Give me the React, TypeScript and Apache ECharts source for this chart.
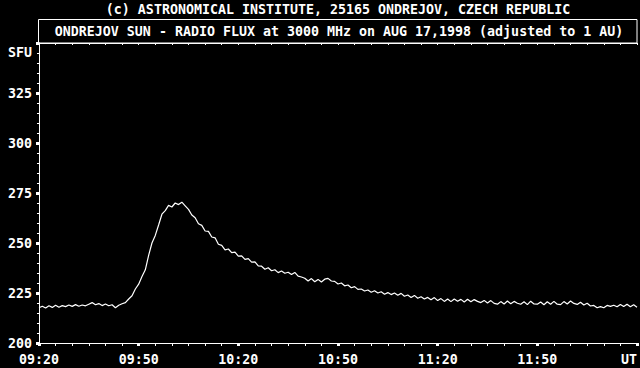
import React, { useEffect, useRef } from "react";
import * as echarts from "echarts";

const startMinute = 0; // minutes after 09:20 UT
const stepMinutes = 1;
const fluxValues: number[] = [
  217.6, 218.4, 217.5, 218.6, 217.8, 218.9, 217.9, 218.7, 218.2, 219.0,
  218.3, 219.2, 218.4, 219.0, 218.6, 219.4, 220.2, 219.1, 219.7, 218.7,
  219.5, 218.6, 219.1, 217.6, 218.9, 219.6, 220.2, 222.0, 223.6, 227.0,
  229.4, 233.2, 236.6, 243.8, 250.0, 253.8, 259.0, 264.4, 266.2, 268.8,
  268.0, 270.0, 269.2, 270.4, 268.6, 266.8, 264.0, 262.6, 259.6, 258.8,
  256.0, 255.8, 253.0, 252.6, 249.4, 248.8, 246.6, 247.0, 245.2, 245.4,
  243.4, 243.6, 241.8, 242.2, 240.4, 240.6, 238.6, 238.4, 236.9, 237.6,
  236.1, 236.6, 235.2, 236.0, 234.9, 235.4, 234.2, 235.3, 233.4, 233.0,
  232.4, 231.0, 232.2, 230.6, 231.8, 230.5, 231.9, 232.3, 231.0, 230.8,
  229.5, 230.0, 228.6, 229.0, 227.6, 228.2, 226.8, 227.0, 226.0, 226.5,
  225.4, 226.1, 225.0, 225.6, 224.4, 225.2, 224.2, 225.0, 223.9, 224.8,
  223.4, 224.0, 222.8, 223.8, 222.4, 223.1, 222.0, 222.8, 221.6, 222.7,
  221.2, 222.2, 220.8, 222.0, 220.7, 222.0, 220.9, 221.8, 220.5, 221.9,
  220.6, 221.7, 220.8, 220.2, 221.3, 220.0, 221.2, 219.8, 219.4, 220.7,
  219.5, 221.0, 219.6, 220.8, 219.9, 219.4, 220.6, 219.2, 220.9, 219.5,
  219.4, 220.5, 219.1, 220.6, 219.4, 220.8, 219.4, 219.2, 220.7, 219.5,
  221.0, 219.8, 219.3, 220.4, 219.0, 219.9, 218.5, 218.8, 217.6, 218.2,
  217.6, 218.8, 218.3, 218.9, 218.1, 219.3, 218.2, 219.4, 218.1, 219.1,
  217.9,
];
const xTickLabels = ["09:20", "09:50", "10:20", "10:50", "11:20", "11:50", "UT"];
const yTickLabels = [200, 225, 250, 275, 300, 325];
const headerText = "(c) ASTRONOMICAL INSTITUTE, 25165 ONDREJOV, CZECH REPUBLIC";
const titleText = "ONDREJOV SUN - RADIO FLUX at 3000 MHz on AUG 17,1998 (adjusted to 1 AU)";
const unitText = "SFU";

const FONT = "'DejaVu Sans Mono', 'Liberation Mono', monospace";

export default function App() {
  const ref = useRef<HTMLDivElement>(null);
  useEffect(() => {
    if (!ref.current) return;
    const chart = echarts.init(ref.current, null, { renderer: "svg" });
    const data = fluxValues.map((v, i) => [startMinute + i * stepMinutes, v]);
    const white = "#ffffff";
    const labelStyle = {
      color: white,
      fontFamily: FONT,
      fontWeight: "bold" as const,
      fontSize: 13.3,
    };
    chart.setOption({
      animation: false,
      backgroundColor: "#000000",
      grid: { left: 39, right: 3, top: 43, bottom: 25 },
      xAxis: [
        {
          type: "value",
          min: 0,
          max: 180,
          interval: 30,
          axisLine: { show: true, lineStyle: { color: white, width: 1 } },
          axisTick: { show: true, length: 3, lineStyle: { color: white, width: 3 } },
          minorTick: { show: true, splitNumber: 6, length: 3, lineStyle: { color: white, width: 1 } },
          splitLine: { show: false },
          axisLabel: {
            ...labelStyle,
            margin: 10,
            alignMaxLabel: "right",
            formatter: (v: number) => xTickLabels[Math.round(v / 30)] ?? "",
          },
        },
        {
          type: "value",
          position: "top",
          min: 0,
          max: 180,
          interval: 5,
          axisLine: { show: true, lineStyle: { color: white, width: 1 } },
          axisTick: { show: true, inside: true, length: 2, lineStyle: { color: white, width: 1 } },
          axisLabel: { show: false },
          splitLine: { show: false },
        },
      ],
      yAxis: [
        {
          type: "value",
          min: 200,
          max: 350,
          interval: 25,
          axisLine: { show: true, lineStyle: { color: white, width: 1 } },
          axisTick: { show: true, length: 3, lineStyle: { color: white, width: 3 } },
          minorTick: { show: true, splitNumber: 5, length: 2, lineStyle: { color: white, width: 1 } },
          splitLine: { show: false },
          axisLabel: {
            ...labelStyle,
            margin: 7,
            formatter: (v: number) => (yTickLabels.includes(v) ? String(v) : ""),
          },
        },
        {
          type: "value",
          position: "right",
          min: 200,
          max: 350,
          interval: 25,
          axisLine: { show: true, lineStyle: { color: white, width: 1 } },
          axisTick: { show: false },
          axisLabel: { show: false },
          splitLine: { show: false },
        },
      ],
      graphic: [
        {
          type: "text",
          x: 338,
          y: 9.5,
          style: {
            text: headerText,
            fill: white,
            font: `bold 13.3px ${FONT}`,
            textAlign: "center",
            textVerticalAlign: "middle",
          },
        },
        {
          type: "rect",
          shape: { x: 38.5, y: 19.5, width: 598.5, height: 23.5 },
          style: { fill: "none", stroke: white, lineWidth: 1 },
        },
        {
          type: "text",
          x: 339,
          y: 31.5,
          style: {
            text: titleText,
            fill: white,
            font: `bold 13.3px ${FONT}`,
            textAlign: "center",
            textVerticalAlign: "middle",
          },
        },
        {
          type: "text",
          x: 32,
          y: 52.5,
          style: {
            text: unitText,
            fill: white,
            font: `bold 13.3px ${FONT}`,
            textAlign: "right",
            textVerticalAlign: "middle",
          },
        },
      ],
      series: [
        {
          type: "line",
          data,
          xAxisIndex: 0,
          yAxisIndex: 0,
          showSymbol: false,
          lineStyle: { color: white, width: 1.2 },
        },
      ],
    });
    return () => chart.dispose();
  }, []);
  return (
    <div
      ref={ref}
      style={{ position: "fixed", left: 0, top: 0, width: 640, height: 368, background: "#000" }}
    />
  );
}
